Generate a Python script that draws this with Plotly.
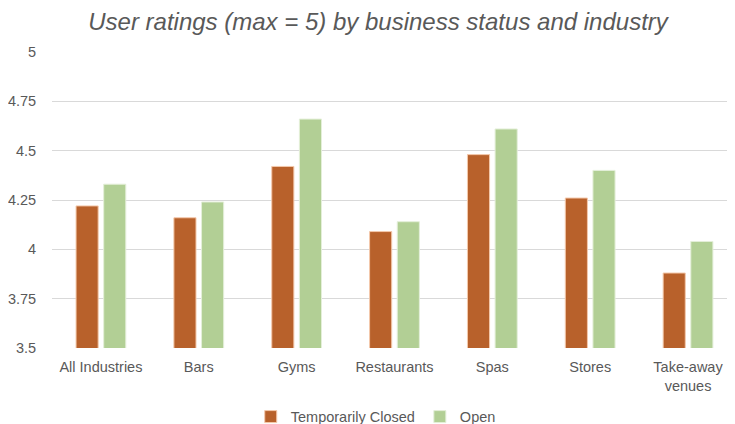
import plotly.graph_objects as go

categories = ["All Industries", "Bars", "Gyms", "Restaurants", "Spas", "Stores", "Take-away<br>venues"]
closed_values = [4.22, 4.16, 4.42, 4.09, 4.48, 4.26, 3.88]
open_values = [4.33, 4.24, 4.66, 4.14, 4.61, 4.40, 4.04]
y_ticks = [3.5, 3.75, 4, 4.25, 4.5, 4.75, 5]
y_tick_labels = ["3.5", "3.75", "4", "4.25", "4.5", "4.75", "5"]

FONT = "Liberation Sans, Arial, sans-serif"
GREY = "#595959"

# page body has an 8px default margin: figure occupies 727x416 of the 735x424 window
W, H = 727, 416

fig = go.Figure()
fig.add_trace(go.Bar(
    x=categories, y=closed_values, name="Temporarily Closed",
    marker=dict(color="#B8612B", line=dict(color="#F4C9AC", width=1)),
))
fig.add_trace(go.Bar(
    x=categories, y=open_values, name="Open",
    marker=dict(color="#B2CF95", line=dict(color="#E4EFD9", width=1)),
))

fig.update_layout(
    width=W, height=H,
    margin=dict(l=44, r=0, t=44, b=76, autoexpand=False),
    paper_bgcolor="white", plot_bgcolor="white",
    barmode="group", bargap=0.435, bargroupgap=0.2,
    title=dict(
        text="User ratings (max = 5) by business status and industry",
        font=dict(family=FONT, size=24, color=GREY, style="italic"),
        x=370 / W, xanchor="center", xref="container",
        y=1 - 14 / H, yanchor="middle", yref="container",
    ),
    font=dict(family=FONT, size=14.5, color=GREY),
    legend=dict(
        orientation="h", x=0.474, xanchor="center", y=-0.232, yanchor="middle",
        font=dict(family=FONT, size=14.5, color=GREY),
        itemwidth=30, traceorder="normal",
    ),
    showlegend=True,
)
fig.update_yaxes(
    range=[3.5, 5], tickvals=y_ticks, ticktext=y_tick_labels,
    showgrid=True, gridcolor="#D9D9D9", gridwidth=1,
    zeroline=False, showline=False,
    ticks="outside", ticklen=12, tickcolor="rgba(0,0,0,0)",
    tickfont=dict(family=FONT, size=14.5, color=GREY),
)
fig.update_xaxes(
    range=[-0.5, 6.48],
    showgrid=False, zeroline=False, showline=False,
    ticks="outside", ticklen=6, tickcolor="rgba(0,0,0,0)",
    tickfont=dict(family=FONT, size=14.5, color=GREY),
)

fig.write_html("out.html")
